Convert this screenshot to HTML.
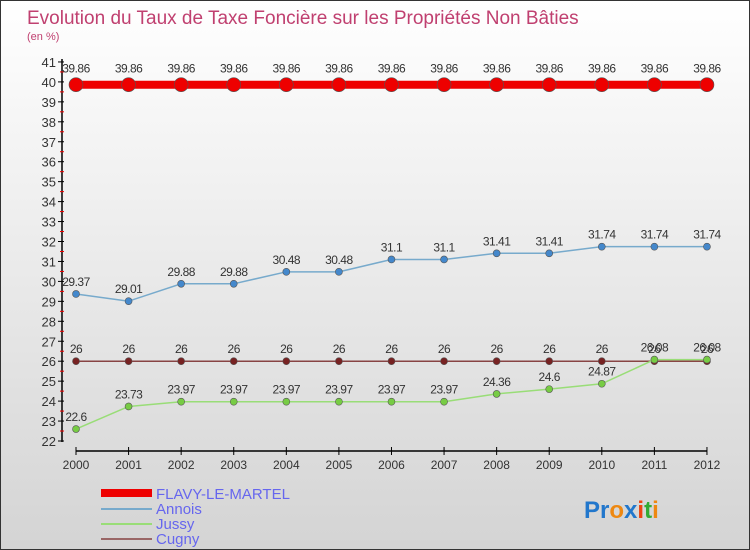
<!DOCTYPE html>
<html><head><meta charset="utf-8"><style>
body{margin:0}
#c{width:748px;height:548px;border:1px solid #333;background:linear-gradient(#ffffff,#d4d4d4);position:relative;font-family:"Liberation Sans",sans-serif;overflow:hidden}
</style></head><body>
<div id="c">
<svg id="s" width="748" height="548" style="position:absolute;left:0;top:0">
<text x="26" y="23" font-size="19" fill="#c04070">Evolution du Taux de Taxe Foncière sur les Propriétés Non Bâties</text>
<text x="26" y="39" font-size="11" fill="#c04070">(en %)</text>
<g id="g"></g>
<g>
<rect x="100" y="488" width="51" height="8" fill="#e00"/>
<text x="155" y="498" font-size="15" fill="#6666ee">FLAVY-LE-MARTEL</text>
<line x1="100" y1="508" x2="151" y2="508" stroke="#77aacc" stroke-width="2"/>
<text x="155" y="513" font-size="15" fill="#6666ee">Annois</text>
<line x1="100" y1="523" x2="151" y2="523" stroke="#99dd77" stroke-width="2"/>
<text x="155" y="528" font-size="15" fill="#6666ee">Jussy</text>
<line x1="100" y1="538" x2="151" y2="538" stroke="#996666" stroke-width="2"/>
<text x="155" y="543" font-size="15" fill="#6666ee">Cugny</text>
</g>
<text x="583" y="517" font-size="24" font-weight="bold"><tspan fill="#2277cc">Pr</tspan><tspan fill="#ee8811">o</tspan><tspan fill="#2277cc">x</tspan><tspan fill="#ee4411">i</tspan><tspan fill="#33aa33">t</tspan><tspan fill="#ee8811">i</tspan></text>
</svg>
</div>
<script>
const years=[2000,2001,2002,2003,2004,2005,2006,2007,2008,2009,2010,2011,2012];
const flavy=[39.86,39.86,39.86,39.86,39.86,39.86,39.86,39.86,39.86,39.86,39.86,39.86,39.86];
const annois=[29.37,29.01,29.88,29.88,30.48,30.48,31.1,31.1,31.41,31.41,31.74,31.74,31.74];
const jussy=[22.6,23.73,23.97,23.97,23.97,23.97,23.97,23.97,24.36,24.6,24.87,26.08,26.08];
const cugny=[26,26,26,26,26,26,26,26,26,26,26,26,26];
const yTicks=[22,23,24,25,26,27,28,29,30,31,32,33,34,35,36,37,38,39,40,41];
const NS="http://www.w3.org/2000/svg";
const g=document.getElementById('g');
const X=i=>75+i*52.58, Y=v=>440-(v-22)*19.95;
function mk(t,a,p){const e=document.createElementNS(NS,t);for(const k in a)e.setAttribute(k,a[k]);(p||g).appendChild(e);return e;}
const ax=mk('line',{x1:61,y1:58,x2:61,y2:441,stroke:'#000','stroke-width':1.5});


const xa=mk('line',{x1:75,y1:450,x2:706,y2:450,stroke:'#000','stroke-width':1.5});


yTicks.forEach(v=>{
 mk('line',{x1:57,x2:63,y1:Y(v),y2:Y(v),stroke:'#000'});
 if(v<41) mk('line',{x1:59,x2:63,y1:Y(v+0.5),y2:Y(v+0.5),stroke:'#e00'});
 const t=mk('text',{x:55,y:Y(v)+5,'font-size':13,fill:'#333','text-anchor':'end'});t.textContent=v;
 
 
});
years.forEach((y,i)=>{
 mk('line',{x1:X(i),x2:X(i),y1:446,y2:454,stroke:'#000'});
 const t=mk('text',{x:X(i),y:468,'font-size':12,fill:'#333','text-anchor':'middle'});t.textContent=y;
 
 
});
function series(d,name,color,w,r,fill,labOff){
 const pts=d.map((v,i)=>X(i)+','+Y(v)).join(' ');
 const l=mk('polyline',{points:pts,fill:'none',stroke:color,'stroke-width':w});
 
 
 d.forEach((v,i)=>{
  const c=mk('circle',{cx:X(i),cy:Y(v),r:r,fill:fill,stroke:'#555','stroke-width':0.6});
  
  
  const t=mk('text',{x:X(i),y:Y(v)-labOff,'font-size':12,fill:'#333','text-anchor':'middle','letter-spacing':'-0.5'});
  t.textContent=String(v).replace(/^(\d+)\.(\d)0$/,'$1.$2');
  
  
 });
}
series(cugny,'cugny','#884444',1.5,3.5,'#772222',8);
series(jussy,'jussy','#99dd77',1.5,3.5,'#77cc44',8);
series(annois,'annois','#77aacc',1.5,3.5,'#4488cc',8);
series(flavy,'flavy','#e00',8,7,'#e00',12);
</script>
</body></html>
